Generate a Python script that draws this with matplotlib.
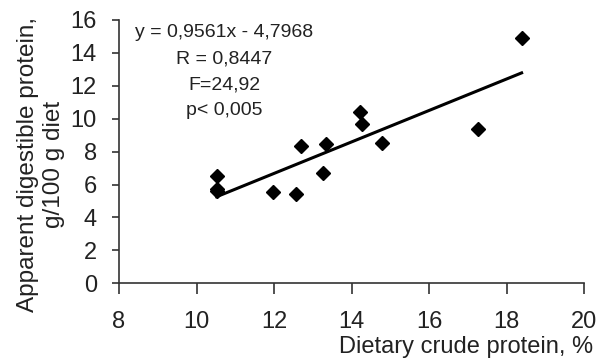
import matplotlib
matplotlib.use("Agg")
import matplotlib.pyplot as plt
import numpy as np

plt.rcParams['font.family'] = ['Liberation Sans', 'DejaVu Sans']

x_vals = [10.52, 10.52, 10.52, 11.98, 12.57, 12.70, 13.26, 13.34, 14.22, 14.26, 14.78, 17.26, 18.39]
y_vals = [6.52, 5.75, 5.62, 5.53, 5.44, 8.34, 6.68, 8.46, 10.39, 9.66, 8.54, 9.35, 14.88]
slope = 0.9561
intercept = -4.7968
x_ticks = [8, 10, 12, 14, 16, 18, 20]
y_ticks = [0, 2, 4, 6, 8, 10, 12, 14, 16]
stats_lines = ["y = 0,9561x - 4,7968", "R = 0,8447", "F=24,92", "p< 0,005"]

fig = plt.figure(figsize=(5.99, 3.60), dpi=100)
ax = fig.add_axes([119/599, 1-283.3/360, (584-119)/599, (283.3-20)/360])

text_col = '#222222'
ax.plot(x_vals, y_vals, linestyle='none', marker='D', color='black', markersize=7.5)
lx = np.array([min(x_vals), max(x_vals)])
ax.plot(lx, slope*lx + intercept, color='black', linewidth=2.2)

ax.set_xlim(8, 20)
ax.set_ylim(0, 16)
ax.set_xticks(x_ticks)
ax.set_yticks(y_ticks)
ax.tick_params(axis='both', labelsize=17, colors='#333333', labelcolor=text_col, width=1.2)
ax.tick_params(axis='x', direction='out', length=8, pad=12)
ax.tick_params(axis='y', direction='out', length=5, pad=11)
for s in ['top', 'right']:
    ax.spines[s].set_visible(False)
for s in ['left', 'bottom']:
    ax.spines[s].set_color('#333333')
    ax.spines[s].set_linewidth(1.2)

ax.text(0.226, 0.985, "\n".join(stats_lines), transform=ax.transAxes, ha='center', va='top',
        fontsize=14, color=text_col, linespacing=1.7, multialignment='center')

fig.text(593/599, 1-347/360, "Dietary crude protein, %", ha='right', va='center', fontsize=17, color=text_col)
fig.text(41/599, 1-164/360, "Apparent digestible protein,\ng/100 g diet", rotation=90, ha='center', va='center',
         fontsize=17.5, color=text_col, multialignment='center', linespacing=1.25)

fig.savefig("out.png", dpi=100)
